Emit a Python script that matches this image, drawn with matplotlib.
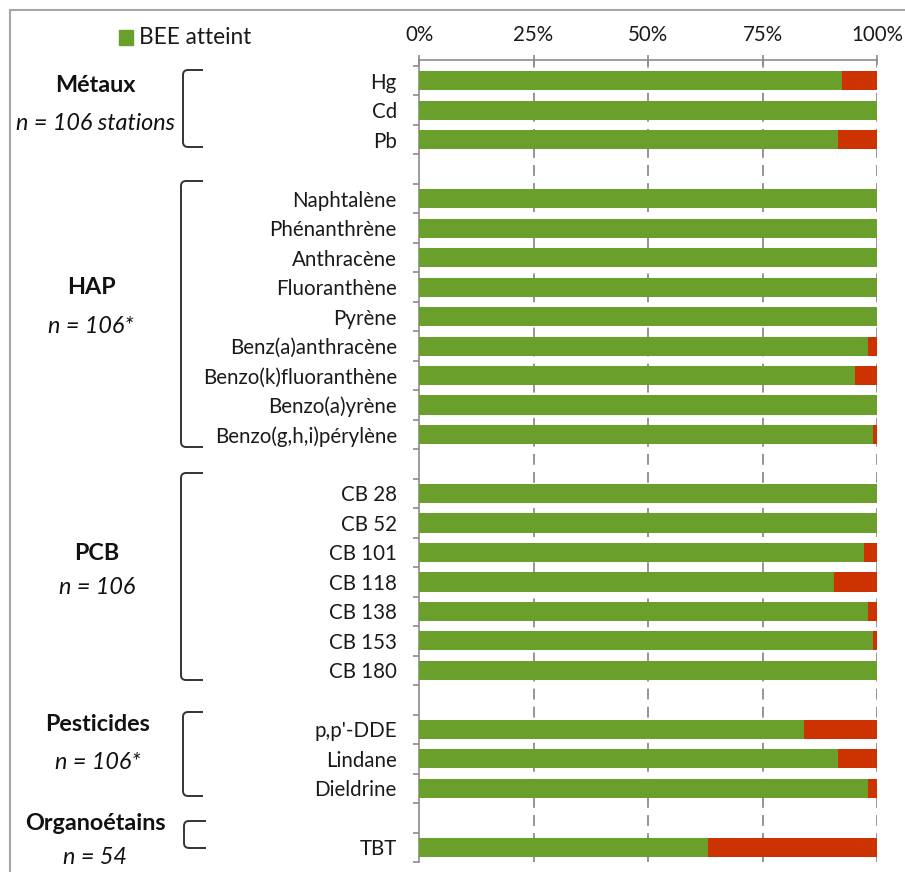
import matplotlib
matplotlib.use('Agg')
import matplotlib.pyplot as plt
import numpy as np
from matplotlib.path import Path
from matplotlib.patches import PathPatch, Rectangle

W, H, DPI = 905, 872, 100
FONT = ['Lato', 'DejaVu Sans']
plt.rcParams['font.family'] = FONT

# ---------------- data ----------------
labels = ["Hg", "Cd", "Pb", "",
          "Naphtalène", "Phénanthrène", "Anthracène", "Fluoranthène", "Pyrène",
          "Benz(a)anthracène", "Benzo(k)fluoranthène", "Benzo(a)yrène",
          "Benzo(g,h,i)pérylène", "",
          "CB 28", "CB 52", "CB 101", "CB 118", "CB 138", "CB 153", "CB 180", "",
          "p,p'-DDE", "Lindane", "Dieldrine", "",
          "TBT"]
bee_atteint = [92.4, 100, 91.5, np.nan,
               100, 100, 100, 100, 100, 98.1, 95.3, 100, 99.1, np.nan,
               100, 100, 97.2, 90.6, 98.1, 99.1, 100, np.nan,
               84.0, 91.5, 98.1, np.nan,
               63.0]
groups = ["Métaux", "HAP", "PCB", "Pesticides", "Organoétains"]
group_n = ["n = 106 stations", "n = 106*", "n = 106", "n = 106*", "n = 54"]
xticks = [0, 25, 50, 75, 100]
xticklabels = ["0%", "25%", "50%", "75%", "100%"]
legend_label = "BEE atteint"

GREEN = '#6a9f2c'
RED = '#cc3300'
GRAY = '#8c8c8c'
TXT = '#1a1a1a'
FS = 14.8
FS_TOP = 14.8
FS_LEG = 16.3
FS_GRP = 16.8

fig = plt.figure(figsize=(W / DPI, H / DPI), dpi=DPI)

def fx(x):
    return x / W

def fy(y):
    return 1 - y / H

ax = fig.add_axes([fx(419), fy(862), fx(877) - fx(419), fy(60) - fy(862)])

bee = np.array(bee_atteint, dtype=float)
ypos = np.arange(len(labels))
valid = ~np.isnan(bee)
ax.barh(ypos[valid], bee[valid], height=0.65, color=GREEN, zorder=3)
ax.barh(ypos[valid], 100 - bee[valid], left=bee[valid], height=0.65, color=RED, zorder=3)

ax.set_xlim(0, 100)
ax.set_ylim(len(labels) - 0.5, -0.704)

ax.xaxis.tick_top()
ax.set_xticks(xticks)
ax.set_xticklabels(xticklabels, fontsize=FS_TOP, color=TXT)
ax.tick_params(axis='x', direction='inout', length=7, width=1.2, color=GRAY, pad=7)

ax.set_yticks(ypos)
ax.set_yticklabels(labels, fontsize=FS, color=TXT)
ax.set_yticks(np.arange(-0.5, len(labels)), minor=True)
ax.tick_params(axis='y', which='major', length=0, pad=16)
ax.tick_params(axis='y', which='minor', direction='out', length=4, width=1.2, color=GRAY)

for s in ['right', 'bottom']:
    ax.spines[s].set_visible(False)
for s in ['left', 'top']:
    ax.spines[s].set_color(GRAY)
    ax.spines[s].set_linewidth(1.2)

for xv in xticks[1:]:
    ax.axvline(xv, color=GRAY, lw=1.3, linestyle=(0, (6, 4)), zorder=1)

# ---------------- legend ----------------
fig.add_artist(Rectangle((fx(119), fy(45)), fx(14), fy(30) - fy(45),
                         transform=fig.transFigure, color=GREEN))
fig.text(fx(139), fy(37), legend_label, fontsize=FS_LEG, va='center', ha='left', color=TXT)

# ---------------- group labels ----------------
gx = [95, 91, 97, 98, 95]
gy = [85, 288, 553, 724, 823]
ny = [123, 326, 587, 762, 857]
for g, n, x, y1, y2 in zip(groups, group_n, gx, gy, ny):
    fig.text(fx(x), fy(y1), g, fontsize=FS_GRP, fontweight='bold', ha='center', va='center', color='#111111')
    fig.text(fx(x), fy(y2), n, fontsize=FS_GRP, style='italic', ha='center', va='center', color='#111111')

# ---------------- brackets ----------------
brackets = [(183, 203, 70, 147), (181, 203, 181, 447), (181, 203, 473, 680),
            (183, 203, 712, 796), (184, 206, 821, 848)]
for x0, x1, y0, y1 in brackets:
    r = 5
    verts = [(x1, y0), (x0 + r, y0), (x0, y0), (x0, y0 + r),
             (x0, y1 - r), (x0, y1), (x0 + r, y1), (x1, y1)]
    codes = [Path.MOVETO, Path.LINETO, Path.CURVE3, Path.CURVE3,
             Path.LINETO, Path.CURVE3, Path.CURVE3, Path.LINETO]
    verts = [(fx(a), fy(b)) for a, b in verts]
    fig.add_artist(PathPatch(Path(verts, codes), transform=fig.transFigure,
                             fill=False, edgecolor='#333333', lw=1.4))

# ---------------- frame ----------------
fig.add_artist(Rectangle((fx(10), fy(880)), fx(905), fy(10) - fy(880),
                         transform=fig.transFigure, fill=False, edgecolor='#a6a6a6', lw=1.5))

fig.savefig('out.png', dpi=DPI)
